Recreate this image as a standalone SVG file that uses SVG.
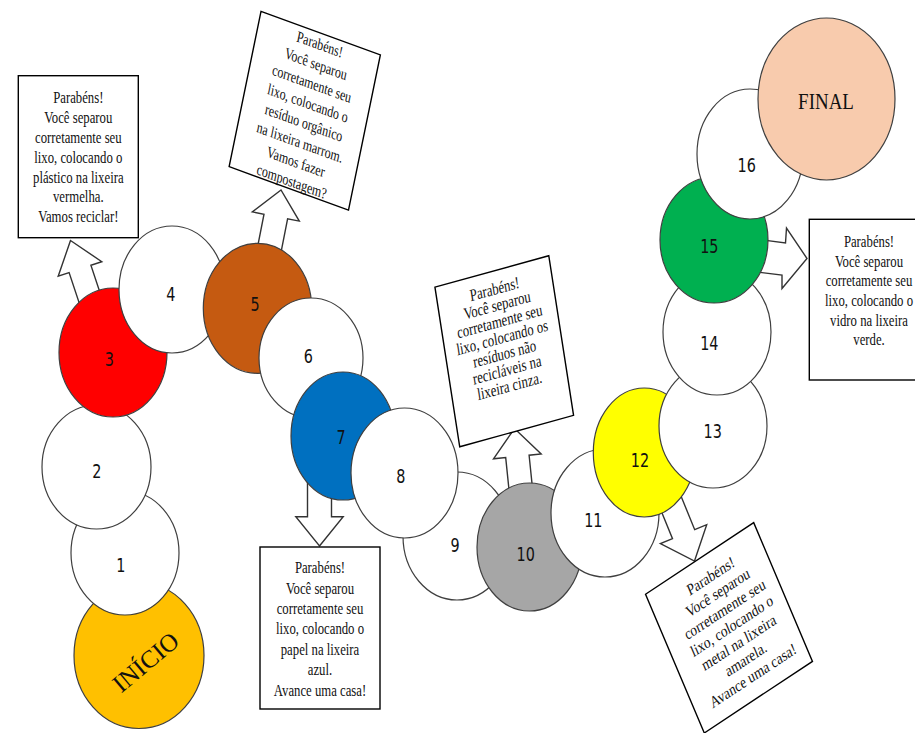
<svg xmlns="http://www.w3.org/2000/svg" width="915" height="733" viewBox="0 0 915 733">
<style>
.c{stroke:#3f3f3f;stroke-width:1.2}
.w{fill:#fff}
.box{fill:#fff;stroke:#000;stroke-width:1.4}
.rb{fill:#fff;stroke:#000;stroke-width:1.4;vector-effect:non-scaling-stroke}
.arrow{fill:#fff;stroke:#333;stroke-width:1.4;stroke-linejoin:miter}
.t{font-family:"Liberation Serif","Times New Roman",serif;fill:#111;text-anchor:middle}
.n{font-family:"DejaVu Sans",sans-serif;font-size:20px;fill:#111;text-anchor:middle}
</style>
<rect width="915" height="733" fill="#fff"/>
<g id="connectors">
<polygon class="arrow" points="70.5,240.5 58.2,276.2 69.1,272.6 81.1,308.7 102.9,301.4 90.9,265.3 101.8,261.7"/>
<polygon class="arrow" points="281,190 252.3,211.9 264,214.2 255.7,256.4 279.3,261 287.6,218.8 299.3,221.1"/>
<polygon class="arrow" points="319.5,546 343.2,516.7 331.5,516.7 331.5,476 307.5,476 307.5,516.7 295.8,516.7"/>
<polygon class="arrow" points="514.5,428.5 493.5,458.8 505.7,457.6 510.8,507.3 534.2,504.9 529.1,455.2 541.2,453.9"/>
<polygon class="arrow" points="694.5,561 706.7,524.7 694.7,529.7 674.7,480.6 652.5,489.7 672.5,538.7 660.4,543.6"/>
<polygon class="arrow" points="748,238 785.5,243 786.5,228 807,258.5 782,288.5 782,275 748,271"/>
</g>
<g id="node-inicio">
<ellipse class="c" cx="139" cy="655.5" rx="65" ry="73" fill="#FFC000"/>
<text class="t" font-size="25" transform="translate(146,662.5) rotate(-40)" y="8">INÍCIO</text>
</g>
<g id="node-1"><ellipse class="c w" cx="125" cy="553" rx="54" ry="62"/><text class="n" transform="translate(120.7,571.7) scale(0.72,1)">1</text></g>
<g id="node-2"><ellipse class="c w" cx="96.5" cy="467" rx="54.5" ry="62"/><text class="n" transform="translate(96.7,478.3) scale(0.72,1)">2</text></g>
<g id="node-3"><ellipse class="c" cx="113" cy="352.5" rx="54" ry="64.5" fill="#FF0000"/><text class="n" transform="translate(109.3,366) scale(0.72,1)">3</text></g>
<g id="node-4"><ellipse class="c w" cx="172" cy="289.5" rx="53" ry="63.5"/><text class="n" transform="translate(170.7,300.7) scale(0.72,1)">4</text></g>
<g id="node-5"><ellipse class="c" cx="257.5" cy="308.3" rx="54.2" ry="65" fill="#C55A11"/><text class="n" transform="translate(255,310.7) scale(0.72,1)">5</text></g>
<g id="node-6"><ellipse class="c w" cx="311" cy="358" rx="52" ry="60"/><text class="n" transform="translate(308.3,363.3) scale(0.72,1)">6</text></g>
<g id="node-7"><ellipse class="c" cx="343" cy="436" rx="52" ry="64" fill="#0070C0"/><text class="n" transform="translate(341,444) scale(0.72,1)">7</text></g>
<g id="node-9"><ellipse class="c w" cx="457" cy="536" rx="54" ry="64"/><text class="n" transform="translate(455,551.5) scale(0.72,1)">9</text></g>
<g id="node-8"><ellipse class="c w" cx="404.5" cy="473" rx="53.5" ry="65"/><text class="n" transform="translate(400.7,483.3) scale(0.72,1)">8</text></g>
<g id="node-10"><ellipse class="c" cx="529.5" cy="547" rx="52.5" ry="64" fill="#A6A6A6"/><text class="n" transform="translate(525.7,560.7) scale(0.72,1)">10</text></g>
<g id="node-11"><ellipse class="c w" cx="605" cy="513" rx="54" ry="64"/><text class="n" transform="translate(593.3,526.7) scale(0.72,1)">11</text></g>
<g id="node-12"><ellipse class="c" cx="644.3" cy="452.5" rx="51" ry="64.5" fill="#FFFF00"/><text class="n" transform="translate(640,467.3) scale(0.72,1)">12</text></g>
<g id="node-13"><ellipse class="c w" cx="713" cy="426" rx="54" ry="62"/><text class="n" transform="translate(712.7,438.3) scale(0.72,1)">13</text></g>
<g id="node-14"><ellipse class="c w" cx="717" cy="332" rx="54" ry="63"/><text class="n" transform="translate(709.3,350) scale(0.72,1)">14</text></g>
<g id="node-15"><ellipse class="c" cx="714" cy="240" rx="54" ry="63" fill="#00B050"/><text class="n" transform="translate(709.3,252.7) scale(0.72,1)">15</text></g>
<g id="node-16"><ellipse class="c w" cx="750" cy="154" rx="53" ry="65"/><text class="n" transform="translate(746.7,171.7) scale(0.72,1)">16</text></g>
<g id="node-final">
<ellipse class="c" cx="826.5" cy="99" rx="68.5" ry="81" fill="#F8CBAD"/>
<text class="t" font-size="24" transform="translate(826,109.3) scale(0.79,1)">FINAL</text>
</g>
<g id="box-plastico">
<rect class="box" x="18.3" y="75.7" width="120" height="162"/>
<g class="t" font-size="17" transform="translate(78.3,0) scale(0.75,1)">
<text y="103.3">Parabéns!</text>
<text y="123.1">Você separou</text>
<text y="143">corretamente seu</text>
<text y="162.8">lixo, colocando o</text>
<text y="182.6">plástico na lixeira</text>
<text y="202.5">vermelha.</text>
<text y="222.3">Vamos reciclar!</text>
</g>
</g>
<g id="box-organico" transform="translate(304.75,110.75) scale(0.75,1) rotate(15.3)">
<rect class="rb" x="-82.5" y="-80.5" width="165" height="161"/>
<g class="t" font-size="16">
<text x="2" y="-64">Parabéns!</text>
<text x="2" y="-43.7">Você separou</text>
<text x="2" y="-23.4">corretamente seu</text>
<text x="2" y="-3.1">lixo, colocando o</text>
<text x="2" y="17.2">resíduo orgânico</text>
<text x="2" y="37.5">na lixeira marrom.</text>
<text x="2" y="57.8">Vamos fazer</text>
<text x="2" y="78.1">compostagem?</text>
</g>
</g>
<g id="box-papel">
<rect class="box" x="260" y="547" width="120" height="162"/>
<g class="t" font-size="17" transform="translate(320,0) scale(0.75,1)">
<text y="573.3">Parabéns!</text>
<text y="593.7">Você separou</text>
<text y="614.1">corretamente seu</text>
<text y="634.5">lixo, colocando o</text>
<text y="654.9">papel na lixeira</text>
<text y="675.3">azul.</text>
<text y="695.7">Avance uma casa!</text>
</g>
</g>
<g id="box-cinza" transform="translate(504.25,351.25) scale(0.75,1) rotate(-11.7)">
<rect class="rb" x="-77.5" y="-81.5" width="155" height="163"/>
<g class="t" font-size="17">
<text y="-58">Parabéns!</text>
<text y="-41.5">Você separou</text>
<text y="-25">corretamente seu</text>
<text y="-8.5">lixo, colocando os</text>
<text y="8">resíduos não</text>
<text y="24.5">recicláveis na</text>
<text y="41">lixeira cinza.</text>
</g>
</g>
<g id="box-metal" transform="translate(729,627.8) scale(0.8,1) rotate(-27.9)">
<rect class="rb" x="-76.5" y="-78.5" width="153" height="157"/>
<g class="t" font-size="16.5">
<text x="4" y="-51">Parabéns!</text>
<text x="4" y="-32.2">Você separou</text>
<text x="4" y="-13.4">corretamente seu</text>
<text x="4" y="5.4">lixo, colocando o</text>
<text x="4" y="24.2">metal na lixeira</text>
<text x="4" y="43">amarela.</text>
<text x="4" y="61.8">Avance uma casa!</text>
</g>
</g>
<g id="box-vidro">
<rect class="box" x="809.3" y="219.3" width="120" height="160.7"/>
<g class="t" font-size="17" transform="translate(869,0) scale(0.75,1)">
<text y="247.3">Parabéns!</text>
<text y="266.9">Você separou</text>
<text y="286.5">corretamente seu</text>
<text y="306.1">lixo, colocando o</text>
<text y="325.7">vidro na lixeira</text>
<text y="345.3">verde.</text>
</g>
</g>
</svg>
